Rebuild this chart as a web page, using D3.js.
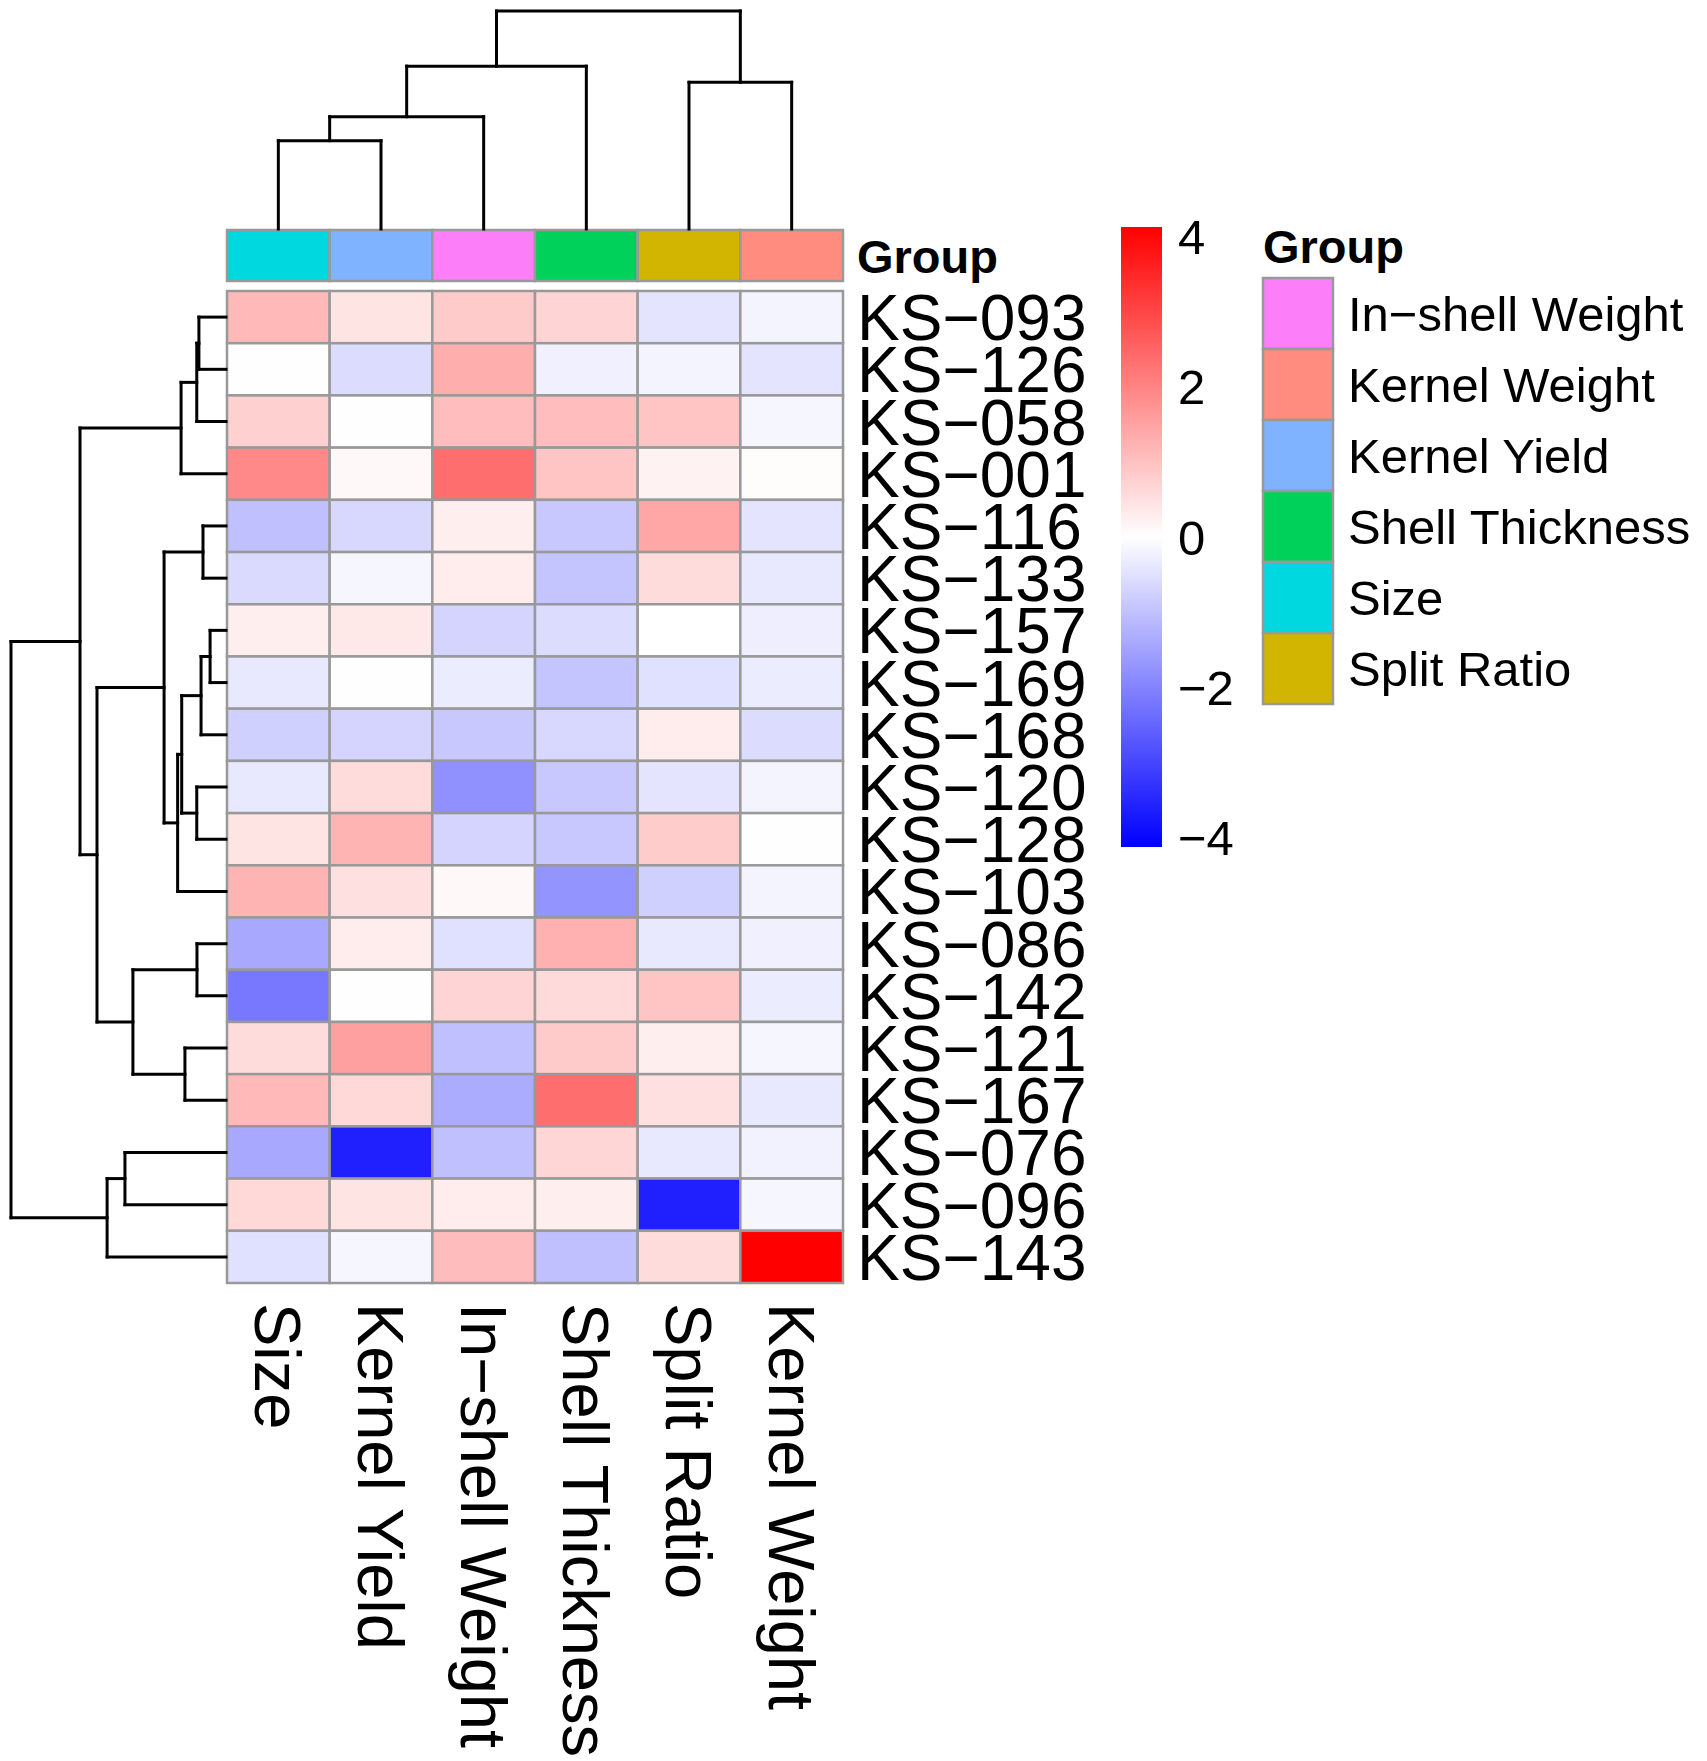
<!DOCTYPE html>
<html>
<head>
<meta charset="utf-8">
<script src="https://cdn.jsdelivr.net/npm/d3@7"></script>
<style>
  body { margin: 0; background: #fff; }
  text { font-family: "Liberation Sans", Arial, Helvetica, sans-serif; }
</style>
</head>
<body>
<svg id="chart"></svg>
<script>
// traits (columns) in clustered order
const traits = ['Size', 'Kernel Yield', 'In\u2212shell Weight', 'Shell Thickness', 'Split Ratio', 'Kernel Weight'];

// samples (rows) in clustered order
const samples = ['KS\u2212093', 'KS\u2212126', 'KS\u2212058', 'KS\u2212001', 'KS\u2212116', 'KS\u2212133', 'KS\u2212157',
  'KS\u2212169', 'KS\u2212168', 'KS\u2212120', 'KS\u2212128', 'KS\u2212103', 'KS\u2212086', 'KS\u2212142',
  'KS\u2212121', 'KS\u2212167', 'KS\u2212076', 'KS\u2212096', 'KS\u2212143'];

// scaled values, one array per row, same order as traits
const values = [
  [1.13, 0.44, 0.86, 0.69, -0.44, -0.18],
  [0.02, -0.57, 1.31, -0.24, -0.18, -0.44],
  [0.76, -0.02, 1.07, 1.07, 0.95, -0.15],
  [1.92, 0.11, 2.34, 0.95, 0.21, 0.05],
  [-1.02, -0.63, 0.27, -0.89, 1.44, -0.44],
  [-0.60, -0.15, 0.31, -0.95, 0.57, -0.37],
  [0.27, 0.37, -0.69, -0.57, 0.00, -0.27],
  [-0.37, 0.02, -0.31, -0.95, -0.50, -0.31],
  [-0.76, -0.69, -0.89, -0.63, 0.31, -0.57],
  [-0.37, 0.57, -1.79, -0.89, -0.44, -0.18],
  [0.44, 1.21, -0.69, -0.89, 0.82, 0.02],
  [1.21, 0.50, 0.11, -1.73, -0.76, -0.18],
  [-1.41, 0.31, -0.50, 1.27, -0.37, -0.24],
  [-2.18, 0.02, 0.69, 0.60, 0.95, -0.31],
  [0.57, 1.54, -1.02, 0.86, 0.27, -0.15],
  [1.13, 0.63, -1.34, 2.34, 0.50, -0.37],
  [-1.41, -3.60, -1.02, 0.66, -0.37, -0.21],
  [0.63, 0.44, 0.31, 0.27, -3.60, -0.15],
  [-0.50, -0.15, 1.08, -1.02, 0.57, 4.12]
];

// hclust style merges: negative = leaf (1-based display position), positive = earlier merge
const rowMerge = [[-1, -2], [1, -3], [2, -4], [-7, -8], [4, -9], [-10, -11], [5, 6], [7, -12], [-5, -6],
  [9, 8], [-13, -14], [-15, -16], [11, 12], [10, 13], [3, 14], [-17, -18], [16, -19], [15, 17]];
const rowHeight = [1.26, 1.36, 2.09, 0.74, 1.16, 1.36, 2.06, 2.25, 1.07, 2.88, 1.35, 1.91, 4.33, 6.0, 6.79, 4.70, 5.53, 10];

const colMerge = [[-1, -2], [1, -3], [2, -4], [-5, -6], [3, 4]];
const colHeight = [4.05, 5.15, 7.47, 6.73, 10];

// annotation legend (alphabetical, as in the legend)
const groupNames = ['In\u2212shell Weight', 'Kernel Weight', 'Kernel Yield', 'Shell Thickness', 'Size', 'Split Ratio'];
const groupColors = ['#FC7EF8', '#FF8C7E', '#80B3FF', '#00D15A', '#00D8DF', '#D1B500'];

const legendTicks = [-4, -2, 0, 2, 4];
const colorLimit = 4.12;

const width = 1707, height = 1761;
const svg = d3.select('#chart').attr('width', width).attr('height', height);

const grey = '#999999';
const x = d3.scaleBand().domain(traits).range([227, 843]);
const y = d3.scaleBand().domain(samples).range([291, 1283]);
const color = d3.scaleLinear().domain([-colorLimit, 0, colorLimit]).range(['blue', 'white', 'red']);
const groupColor = d3.scaleOrdinal().domain(groupNames).range(groupColors);

// heatmap cells
const cells = [];
values.forEach((row, i) => row.forEach((v, j) => cells.push({ s: samples[i], t: traits[j], v })));

svg.append('g').selectAll('rect')
  .data(cells)
  .enter()
  .append('rect')
  .attr('x', d => x(d.t))
  .attr('y', d => y(d.s))
  .attr('width', x.bandwidth())
  .attr('height', y.bandwidth())
  .attr('fill', d => color(d.v))
  .attr('stroke', grey)
  .attr('stroke-width', 2.5);

// annotation bar
svg.append('g').selectAll('rect')
  .data(traits)
  .enter()
  .append('rect')
  .attr('x', d => x(d))
  .attr('y', 230)
  .attr('width', x.bandwidth())
  .attr('height', 51)
  .attr('fill', d => groupColor(d))
  .attr('stroke', grey)
  .attr('stroke-width', 2.5);

svg.append('text')
  .attr('x', 857).attr('y', 273)
  .attr('font-size', 47).attr('font-weight', 'bold')
  .text('Group');

// row labels
svg.append('g').selectAll('text')
  .data(samples)
  .enter()
  .append('text')
  .attr('x', 857)
  .attr('y', d => y(d) + y.bandwidth() / 2 + 23)
  .attr('font-size', 64)
  .text(d => d);

// column labels, rotated
svg.append('g').selectAll('text')
  .data(traits)
  .enter()
  .append('text')
  .attr('transform', d => `translate(${x(d) + x.bandwidth() / 2 - 23}, 1303) rotate(90)`)
  .attr('font-size', 65)
  .text(d => d);

// dendrogram segments from merge table
function dendroSegments(merge, heights, leafPos) {
  const pos = [], h = [];
  const at = k => k < 0 ? [leafPos(-k - 1), 0] : [pos[k - 1], h[k - 1]];
  const segs = [];
  merge.forEach((m, i) => {
    const [p1, h1] = at(m[0]);
    const [p2, h2] = at(m[1]);
    const hh = heights[i];
    segs.push([p1, h1, p1, hh], [p1, hh, p2, hh], [p2, hh, p2, h2]);
    pos.push((p1 + p2) / 2);
    h.push(hh);
  });
  return segs;
}

const colH = d3.scaleLinear().domain([0, d3.max(colHeight)]).range([229, 11]);
const colSegs = dendroSegments(colMerge, colHeight, i => x(traits[i]) + x.bandwidth() / 2);
svg.append('g').selectAll('line')
  .data(colSegs)
  .enter()
  .append('line')
  .attr('x1', d => d[0]).attr('y1', d => colH(d[1]))
  .attr('x2', d => d[2]).attr('y2', d => colH(d[3]))
  .attr('stroke', 'black').attr('stroke-width', 3).attr('stroke-linecap', 'square');

const rowH = d3.scaleLinear().domain([0, d3.max(rowHeight)]).range([226, 11]);
const rowSegs = dendroSegments(rowMerge, rowHeight, i => y(samples[i]) + y.bandwidth() / 2);
svg.append('g').selectAll('line')
  .data(rowSegs)
  .enter()
  .append('line')
  .attr('x1', d => rowH(d[1])).attr('y1', d => d[0])
  .attr('x2', d => rowH(d[3])).attr('y2', d => d[2])
  .attr('stroke', 'black').attr('stroke-width', 3).attr('stroke-linecap', 'square');

// colour key
const key = d3.scaleLinear().domain([-colorLimit, colorLimit]).range([847, 227]);
const grad = svg.append('defs').append('linearGradient')
  .attr('id', 'keygrad').attr('x1', 0).attr('y1', 1).attr('x2', 0).attr('y2', 0);
d3.range(0, 1.0001, 0.05).forEach(f => {
  grad.append('stop').attr('offset', f).attr('stop-color', color(-colorLimit + f * 2 * colorLimit));
});
svg.append('rect')
  .attr('x', 1121).attr('y', key(colorLimit))
  .attr('width', 41).attr('height', key(-colorLimit) - key(colorLimit))
  .attr('fill', 'url(#keygrad)');

svg.append('g').selectAll('text')
  .data(legendTicks)
  .enter()
  .append('text')
  .attr('x', 1178)
  .attr('y', d => key(d) + 17.5)
  .attr('font-size', 49)
  .text(d => d < 0 ? '\u2212' + Math.abs(d) : d);

// group legend
svg.append('text')
  .attr('x', 1263).attr('y', 263)
  .attr('font-size', 47).attr('font-weight', 'bold')
  .text('Group');

const lg = svg.append('g').selectAll('g')
  .data(groupNames)
  .enter()
  .append('g')
  .attr('transform', (d, i) => `translate(1263, ${278 + i * 71})`);

lg.append('rect')
  .attr('width', 70).attr('height', 71)
  .attr('fill', d => groupColor(d))
  .attr('stroke', grey).attr('stroke-width', 2.5);

lg.append('text')
  .attr('x', 85).attr('y', 35.5 + 17.5)
  .attr('font-size', 49)
  .text(d => d);
</script>
</body>
</html>
